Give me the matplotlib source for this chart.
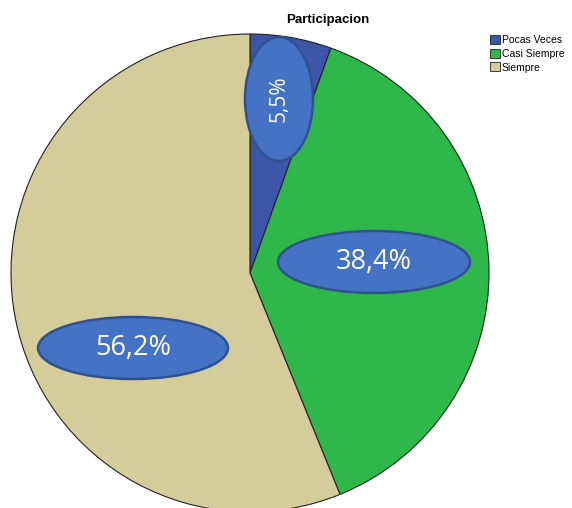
import matplotlib
matplotlib.use("Agg")
import matplotlib.pyplot as plt
from matplotlib.patches import Ellipse, Patch

categories = ["Pocas Veces", "Casi Siempre", "Siempre"]
values = [5.5, 38.4, 56.2]
labels = ["5,5%", "38,4%", "56,2%"]
colors = ["#3D55A8", "#2EB84A", "#D4CD9A"]
title = "Participacion"

W, H = 572, 508
fig = plt.figure(figsize=(W / 100, H / 100), dpi=100)
ax = fig.add_axes([0, 0, 1, 1])

cx, cy, r = 250, H - 273, 239
wedges, _ = ax.pie(values, colors=colors, startangle=90, counterclock=False,
                   center=(cx, cy), radius=r, frame=True,
                   wedgeprops=dict(edgecolor="#222222", linewidth=0.8))
ax.set_xlim(0, W)
ax.set_ylim(0, H)
ax.set_aspect("equal")
ax.axis("off")

# label ellipses (x, y in pixels from top, width, height, rotation, font size)
ell = [(279, 99, 68, 124, 90, 15), (374, 262, 192, 62, 0, 19.5),
       (133, 348, 190, 62, 0, 19.5)]
for (ex, ey, ew, eh, rot, fs), lab in zip(ell, labels):
    ax.add_patch(Ellipse((ex, H - ey), ew, eh, facecolor="#4472C4",
                         edgecolor="#2F528F", linewidth=1.8, zorder=5))
    ax.text(ex, H - ey, lab, ha="center", va="center", color="white",
            fontsize=fs, rotation=rot, family="Open Sans", zorder=6)

fig.text(328 / W, 1 - 20 / H, title, ha="center", va="center",
         fontsize=9.5, fontweight="bold", family="Liberation Sans")

handles = [Patch(facecolor=c, edgecolor="#222222", linewidth=0.6) for c in colors]
fig.legend(handles, categories, loc="upper left",
           bbox_to_anchor=(490 / W, 1 - 35 / H), frameon=False,
           prop=dict(family="Liberation Sans", size=7.5),
           handlelength=0.95, handleheight=0.95, handletextpad=0.2,
           labelspacing=0.35, borderpad=0, borderaxespad=0)

fig.savefig("out.png", dpi=100)
